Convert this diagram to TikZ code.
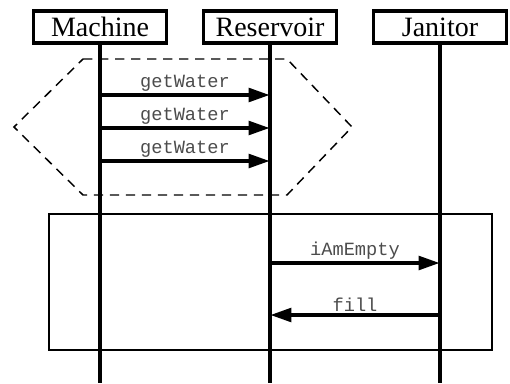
\documentclass[tikz,border=0pt]{standalone}
\usepackage{fontspec}
\setmainfont{Liberation Serif}
\setmonofont{Liberation Mono}
\usetikzlibrary{arrows.meta}

\begin{document}
\begin{tikzpicture}[x=0.75pt, y=-0.75pt,
    actor/.style={draw, line width=2.4pt, fill=white, minimum width=100pt,
      minimum height=24pt, inner sep=0pt, font=\fontsize{21}{21}\selectfont},
    life/.style={line width=2.4pt},
    msg/.style={line width=3.2pt, -{Triangle[length=16pt, width=10pt]}},
    lbl/.style={above, inner sep=1pt, text=black!70,
      font=\ttfamily\fontsize{14}{14}\selectfont}]

  \useasboundingbox (0,0) rectangle (510,383);

  \newcommand\M{100}
  \newcommand\R{270}
  \newcommand\J{440}

  % loop region
  \draw[dashed, line width=1.1pt, dash pattern=on 7pt off 5pt]
    (83,59) -- (287,59) -- (352,127) -- (287,195) -- (83,195) -- (14,127) -- cycle;

  % alt region
  \draw[line width=1.1pt] (49,214) rectangle (492,350);

  % lifelines
  \coordinate (machineEnd) at (\M,383);
  \coordinate (reservoirEnd) at (\R,383);
  \coordinate (janitorEnd) at (\J,383);
  \draw[life] (\M,27) -- (machineEnd);
  \draw[life] (\R,27) -- (reservoirEnd);
  \draw[life] (\J,27) -- (janitorEnd);

  \node[actor] (machine) at (\M,27) {Machine};
  \node[actor] (reservoir) at (\R,27) {Reservoir};
  \node[actor] (janitor) at (\J,27) {Janitor};

  % messages
  \coordinate (m1) at (\M,95);  \coordinate (r1) at (\R,95);
  \coordinate (m2) at (\M,128); \coordinate (r2) at (\R,128);
  \coordinate (m3) at (\M,161); \coordinate (r3) at (\R,161);
  \coordinate (r4) at (\R,263); \coordinate (j4) at (\J,263);
  \coordinate (r5) at (\R,315); \coordinate (j5) at (\J,315);

  \draw[msg] (m1) -- node[lbl]{getWater} (r1); % Machine->Reservoir
  \draw[msg] (m2) -- node[lbl]{getWater} (r2);
  \draw[msg] (m3) -- node[lbl]{getWater} (r3);
  \draw[msg] (r4) -- node[lbl]{iAmEmpty} (j4); % Reservoir->Janitor
  \draw[msg] (j5) -- node[lbl]{fill} (r5);     % Janitor->Reservoir

\end{tikzpicture}
\end{document}
